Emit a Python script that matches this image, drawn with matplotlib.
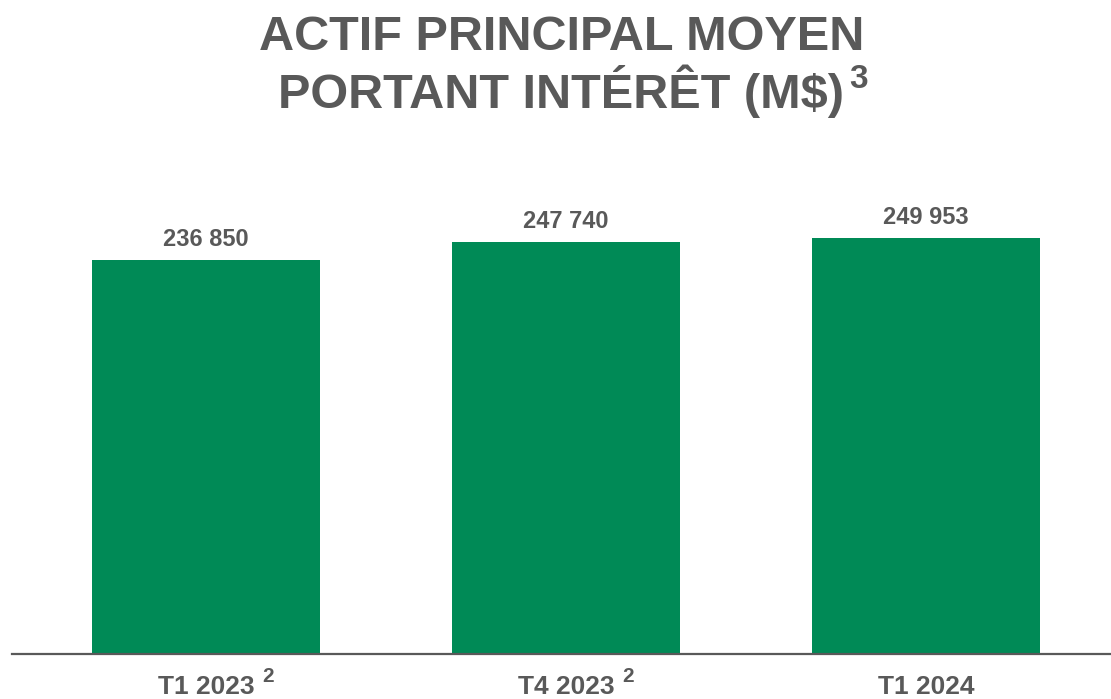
import matplotlib.pyplot as plt

plt.rcParams['font.family'] = ['Liberation Sans', 'DejaVu Sans']

# donnees
periodes = ["T1 2023", "T4 2023", "T1 2024"]
notes = ["2", "2", ""]
actif = [236850, 247740, 249953]

vert = "#008A56"
gris = "#595959"

W, H = 1111, 699
fig = plt.figure(figsize=(W / 100, H / 100), dpi=100)
ax = fig.add_axes([12 / W, 45 / H, 1099 / W, 436 / H])

x = list(range(len(periodes)))
ax.bar(x, actif, width=0.633, color=vert)
ax.set_xlim(-0.539, 2.514)
ax.set_ylim(0, 262000)

for s in ["top", "right", "left"]:
    ax.spines[s].set_visible(False)
ax.spines["bottom"].set_color(gris)
ax.spines["bottom"].set_linewidth(1.6)
ax.set_yticks([])
ax.set_xticks([])

# valeurs au-dessus des barres
for i, v in enumerate(actif):
    lab = f"{v:,}".replace(",", " ")
    ax.annotate(lab, xy=(i, v), xytext=(0, 10), textcoords="offset points",
                ha="center", va="baseline", fontsize=17, fontweight="bold", color=gris)

# etiquettes des periodes + renvois
for i, (p, n) in enumerate(zip(periodes, notes)):
    ax.annotate(p, xy=(i, 0), xycoords=("data", "axes fraction"), xytext=(0, -28.8),
                textcoords="offset points", ha="center", va="baseline",
                fontsize=19, fontweight="bold", color=gris, annotation_clip=False)
    if n:
        ax.annotate(n, xy=(i, 0), xycoords=("data", "axes fraction"), xytext=(40.3, -20.2),
                    textcoords="offset points", ha="left", va="baseline",
                    fontsize=15, fontweight="bold", color=gris, annotation_clip=False)

# titre
fig.text(562 / W, 1 - 50 / H, "ACTIF PRINCIPAL MOYEN", ha="center", va="baseline",
         fontsize=35, fontweight="bold", color=gris)
fig.text(278 / W, 1 - 108 / H, "PORTANT INTÉRÊT (M$)", ha="left", va="baseline",
         fontsize=35, fontweight="bold", color=gris)
fig.text(849 / W, 1 - 88 / H, "3", ha="left", va="baseline",
         fontsize=24, fontweight="bold", color=gris)

fig.savefig("out.png", dpi=100)
